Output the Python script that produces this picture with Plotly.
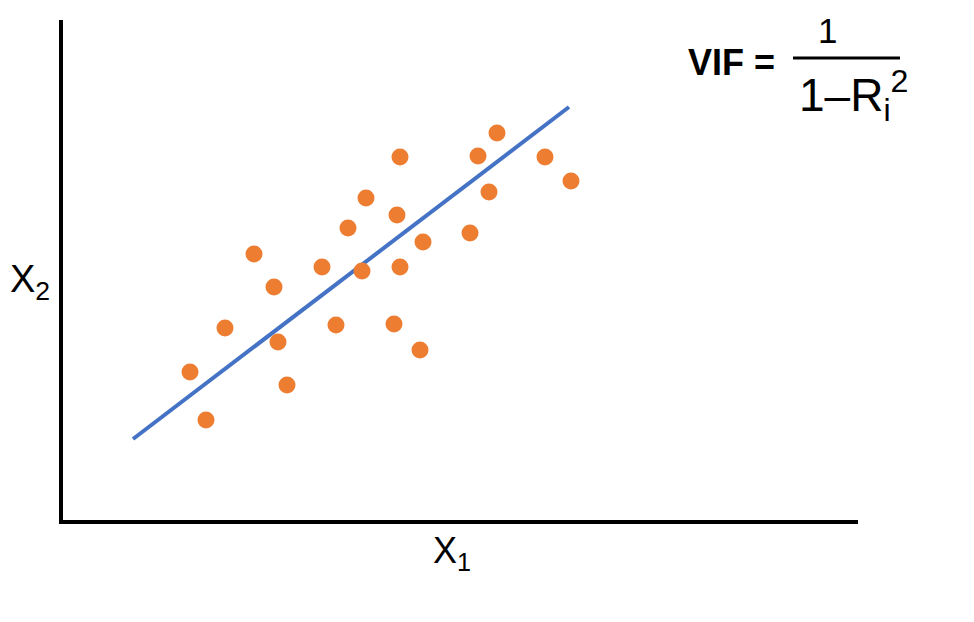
import plotly.graph_objects as go

# Scatter data (X1, X2) in arbitrary units
x1_values = [127, 143, 162, 191, 211, 215, 224, 259, 273, 285, 299, 303,
             331, 334, 337, 337, 357, 360, 407, 415, 426, 434, 482, 508]
x2_values = [148, 100, 192, 266, 233, 178, 135, 253, 195, 292, 249, 322,
             196, 305, 363, 253, 170, 278, 287, 364, 328, 387, 363, 339]

# Regression line endpoints
line_x = [70, 506]
line_y = [81, 413]

X_RANGE = [0, 795]
Y_RANGE = [0, 500]

fig = go.Figure()
fig.add_trace(go.Scatter(
    x=line_x, y=line_y, mode="lines",
    line=dict(color="#4472C4", width=4), hoverinfo="skip", showlegend=False))
fig.add_trace(go.Scatter(
    x=x1_values, y=x2_values, mode="markers",
    marker=dict(color="#ED7D31", size=17, line=dict(width=0)),
    showlegend=False))

font_family = "Liberation Sans, Arial, sans-serif"

fig.update_layout(
    width=974, height=622,
    margin=dict(l=55, r=124, t=12, b=110),
    paper_bgcolor="white", plot_bgcolor="white",
    xaxis=dict(range=X_RANGE, showgrid=False, zeroline=False, showticklabels=False,
               ticks="", showline=True, linecolor="black", linewidth=4),
    yaxis=dict(range=Y_RANGE, showgrid=False, zeroline=False, showticklabels=False,
               ticks="", showline=True, linecolor="black", linewidth=4),
    font=dict(family=font_family, color="black"),
)

def px_x(px):
    return (px - 63) / 795

def px_y(py):
    return (520 - py) / 500

annotations = [
    dict(text="X<sub>2</sub>", x=px_x(30), y=px_y(282), size=38),
    dict(text="X<sub>1</sub>", x=px_x(452), y=px_y(553), size=36),
    dict(text="<b>VIF</b> <b>=</b>", x=px_x(731), y=px_y(63), size=36),
    dict(text="1", x=px_x(827), y=px_y(30), size=35),
    dict(text="1\u2013R<sub>i</sub><sup>2</sup>", x=px_x(853), y=px_y(95), size=46),
]
for a in annotations:
    fig.add_annotation(text=a["text"], x=a["x"], y=a["y"], xref="paper", yref="paper",
                       showarrow=False, xanchor="center", yanchor="middle",
                       font=dict(size=a["size"], family=font_family, color="black"))

fig.add_shape(type="line", xref="paper", yref="paper",
              x0=px_x(793), x1=px_x(900), y0=px_y(58), y1=px_y(58),
              line=dict(color="black", width=3))

fig.write_html("out.html")
